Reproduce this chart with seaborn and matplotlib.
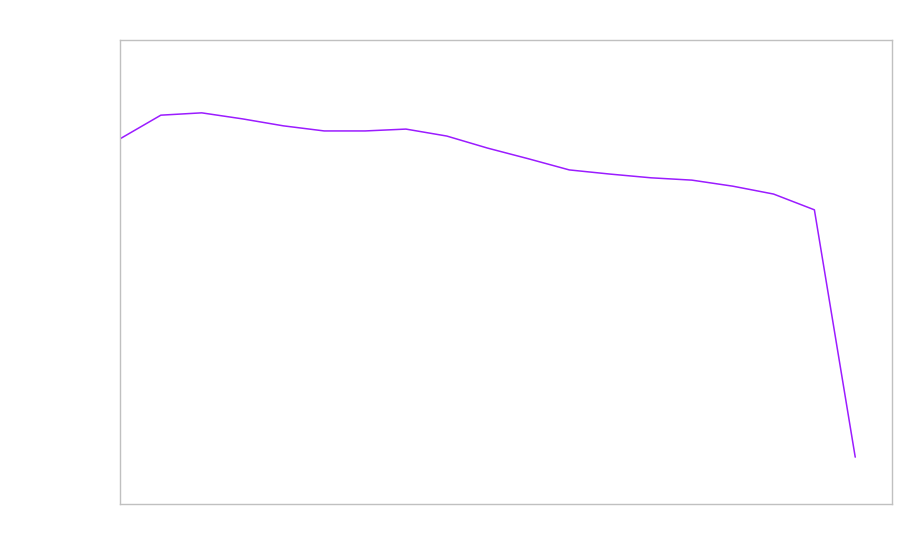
import numpy as np
import pandas as pd
import seaborn as sns
import matplotlib
matplotlib.use('Agg')
import matplotlib.pyplot as plt

# values (no axis labels in the reference, so arbitrary 0-100 units)
x_vals = list(range(19))
y_vals = [78.7, 83.8, 84.3, 83.0, 81.5, 80.4, 80.4, 80.8, 79.3, 76.7,
          74.4, 72.0, 71.1, 70.3, 69.8, 68.5, 66.8, 63.4, 10.1]

df = pd.DataFrame({'x': x_vals, 'y': y_vals})

sns.set_style('white')
fig = plt.figure(figsize=(9, 5.6), dpi=100)
ax = fig.add_axes([120 / 900, 1 - 504 / 560, 772 / 900, 464 / 560])

sns.lineplot(data=df, x='x', y='y', color='#9b1cff', linewidth=1.1, ax=ax)

ax.set_xlim(0, 18.9)
ax.set_ylim(0, 100)
ax.set_xticks([])
ax.set_yticks([])
ax.set_xlabel('')
ax.set_ylabel('')
for s in ax.spines.values():
    s.set_color('#c0c0c0')
    s.set_linewidth(1)

fig.savefig('out.png', dpi=100)
